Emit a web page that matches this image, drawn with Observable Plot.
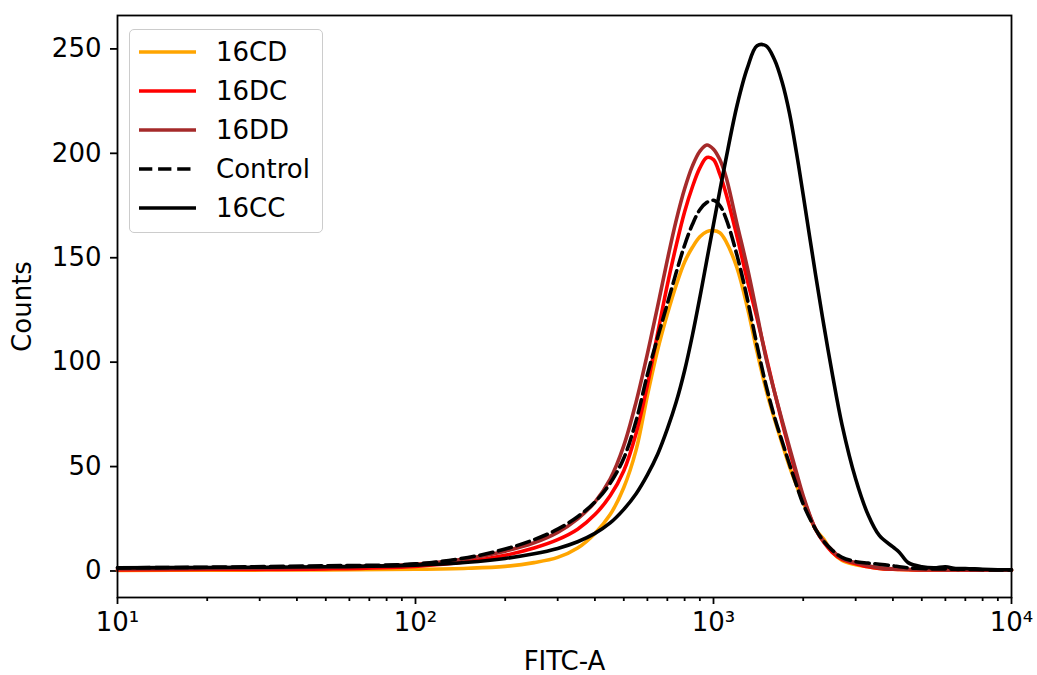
<!DOCTYPE html>
<html><head><meta charset="utf-8">
<script src="https://cdn.jsdelivr.net/npm/d3@7"></script>
<script src="https://cdn.jsdelivr.net/npm/@observablehq/plot@0.6"></script>
<style>
body{margin:0;background:#fff;}
#wrap{position:relative;width:1037px;height:675px;font-family:"DejaVu Sans",sans-serif;}
#legend{position:absolute;left:129px;top:29px;width:194px;height:204px;box-sizing:border-box;border:1.6px solid #cccccc;border-radius:5px;background:rgba(255,255,255,0.8);}
.row{position:absolute;left:9px;height:30px;display:flex;align-items:center;font-size:26px;color:#000;white-space:nowrap;}
.row svg{margin-right:20px;}
</style></head>
<body><div id="wrap"><div id="legend"></div></div>
<script>
const fitc = [10, 20, 50, 100, 150, 200, 250, 300, 350, 400, 450, 500, 550, 600, 650, 700, 750, 800, 850, 900, 950, 1000, 1050, 1100, 1200, 1300, 1400, 1500, 1600, 1700, 1800, 1900, 2000, 2200, 2350, 2500, 2700, 3000, 3300, 3600, 4000, 4200, 4500, 5000, 5500, 6000, 6500, 7000, 8000, 9000, 10000];
const c16CD = [0.3, 0.4, 0.5, 0.8, 1.3, 2.2, 4, 6.5, 11, 18, 27, 40, 58, 84, 106, 123, 137, 148, 155, 160, 162.5, 163, 162, 158, 145, 126, 105, 87, 73, 61, 50, 41, 33, 20, 15, 9, 5, 3, 2, 1.2, 0.8, 0.7, 0.6, 0.5, 0.5, 0.5, 0.4, 0.4, 0.4, 0.4, 0.4];
const c16DC = [0.5, 0.7, 1.0, 2.2, 4.5, 7.5, 11, 15, 20, 27, 36, 48, 66, 89, 114, 137, 156, 172, 184, 193, 198, 197, 190, 181, 160, 139, 121, 103, 86, 71, 57.5, 45.5, 35, 20, 13.5, 9, 5.5, 3.5, 2, 1.2, 0.8, 0.7, 0.6, 0.5, 0.5, 0.5, 0.5, 0.4, 0.4, 0.4, 0.4];
const c16DD = [1.0, 1.2, 1.8, 3.2, 6, 9.5, 13.5, 18.5, 25, 33, 44, 60, 81, 104, 127, 149, 168, 183, 194, 201, 204, 202, 197, 189, 166, 145, 123, 102, 86, 72, 59, 47, 36, 20, 14, 10, 6, 4, 2.5, 1.5, 1, 1, 0.8, 0.6, 0.6, 0.5, 0.5, 0.5, 0.5, 0.4, 0.4];
const cControl = [1.5, 1.8, 2.5, 3.4, 6.5, 10.5, 15, 20, 26, 33, 42, 54, 72, 94, 112, 128, 143, 156, 166, 173, 176.5, 177.5, 175, 169, 151, 130, 108, 89, 74, 62, 51, 41, 32, 20, 14, 10, 6.5, 4.5, 3.8, 3.2, 2.5, 2, 1.5, 1.2, 1, 1, 0.8, 0.8, 0.6, 0.5, 0.5];
const c16CC = [1.5, 1.7, 2.0, 2.8, 4.2, 6, 8.2, 10.8, 14, 18, 23, 29.5, 37, 46, 56, 68, 81, 96, 113, 131, 149, 166, 182, 197, 223, 241, 251.5, 251.5, 245, 234, 219, 200, 180, 142, 117, 95, 70, 44, 27, 17, 11.5, 9, 4, 2, 1.5, 2, 1.2, 1.2, 0.8, 0.6, 0.6];

const seriesNames = ["16CD", "16DC", "16DD", "Control", "16CC"];
const seriesValues = [c16CD, c16DC, c16DD, cControl, c16CC];
const seriesColors = ["#FFA500", "#FF0000", "#A52A2A", "#000000", "#000000"];
const seriesDash = [null, null, null, "13.3,5.8", null];

const yTicks = [0, 50, 100, 150, 200, 250];
const xTicks = [10, 100, 1000, 10000];
const xTickLabels = ["10\u00B9", "10\u00B2", "10\u00B3", "10\u2074"];
const xMinor = [];
for (const dec of [10, 100, 1000]) for (let k = 2; k <= 9; k++) xMinor.push(dec * k);

const lineMarks = seriesNames.map((name, i) =>
  Plot.line(fitc.map((x, j) => ({x, y: seriesValues[i][j]})), {
    x: "x", y: "y", stroke: seriesColors[i], strokeWidth: 3.6,
    strokeDasharray: seriesDash[i] || undefined, curve: "catmull-rom"
  })
);

const chart = Plot.plot({
  width: 1037, height: 675,
  marginLeft: 117, marginRight: 26, marginTop: 15, marginBottom: 78,
  style: {fontFamily: "'DejaVu Sans', sans-serif", fontSize: "26px", color: "black", background: "white", overflow: "visible"},
  x: {type: "log", domain: [10, 10000]},
  y: {domain: [-12.7, 266]},
  marks: [
    Plot.axisX(xMinor, {tickSize: 4, strokeWidth: 1.8, tickFormat: () => "", label: null}),
    Plot.axisX(xTicks, {tickSize: 7, strokeWidth: 1.8, tickPadding: 8, tickFormat: d => xTickLabels[xTicks.indexOf(d)],
      label: "FITC-A", labelAnchor: "center", labelArrow: "none", labelOffset: 72}),
    Plot.axisY(yTicks, {tickSize: 7, strokeWidth: 1.8, tickPadding: 9,
      label: "Counts", labelAnchor: "center", labelArrow: "none", labelOffset: 105}),
    ...lineMarks,
    Plot.frame({stroke: "black", strokeWidth: 1.8})
  ]
});
document.getElementById("wrap").prepend(chart);

const legend = document.getElementById("legend");
const rowTops = [7, 45.5, 84.5, 123.5, 163];
seriesNames.forEach((name, i) => {
  const row = document.createElement("div");
  row.className = "row";
  row.style.top = rowTops[i] + "px";
  const dash = seriesDash[i] ? `stroke-dasharray="${seriesDash[i]}"` : "";
  row.innerHTML = `<svg width="57" height="10"><line x1="0" y1="5" x2="57" y2="5" stroke="${seriesColors[i]}" stroke-width="3.6" ${dash}/></svg><span>${name}</span>`;
  legend.appendChild(row);
});
</script>
</body></html>
